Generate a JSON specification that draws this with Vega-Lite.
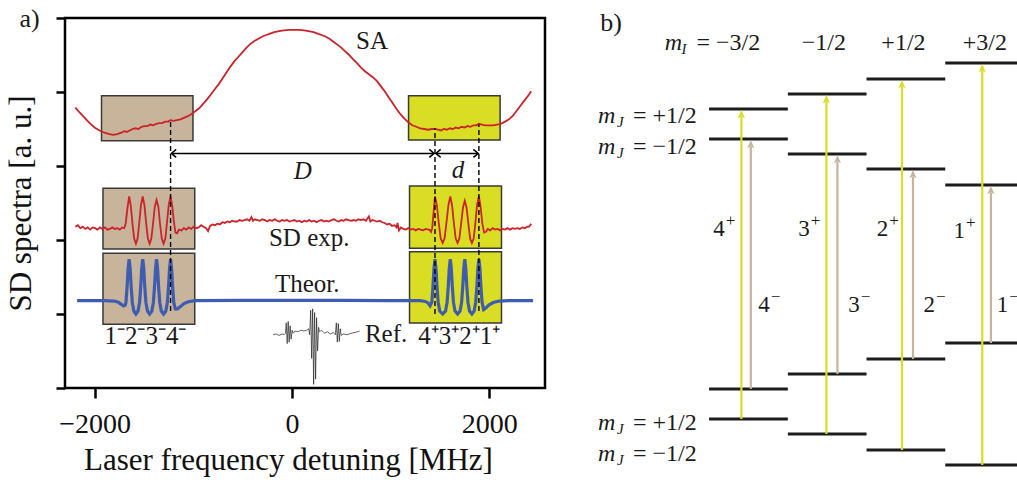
{
"$schema":"https://vega.github.io/schema/vega-lite/v6.json",
"background":"white",
"padding":{"left":4,"top":4,"right":0,"bottom":0},
"bounds":"flush",
"spacing":46,
"config":{"font":"Liberation Serif","view":{"stroke":null},"axis":{"grid":false,"domain":false},"text":{"font":"Liberation Serif","color":"#1a1a1a"}},
"datasets":{
"sa":[{"x":-2195,"y":3.79},{"x":-2150,"y":3.72},{"x":-2100,"y":3.65},{"x":-2050,"y":3.58},{"x":-2000,"y":3.52},{"x":-1950,"y":3.48},{"x":-1900,"y":3.45},{"x":-1850,"y":3.43},{"x":-1810,"y":3.42},{"x":-1770,"y":3.43},{"x":-1730,"y":3.45},{"x":-1700,"y":3.47},{"x":-1675,"y":3.46},{"x":-1645,"y":3.48},{"x":-1615,"y":3.5},{"x":-1585,"y":3.51},{"x":-1555,"y":3.5},{"x":-1525,"y":3.53},{"x":-1495,"y":3.54},{"x":-1465,"y":3.54},{"x":-1435,"y":3.56},{"x":-1405,"y":3.55},{"x":-1375,"y":3.57},{"x":-1345,"y":3.58},{"x":-1315,"y":3.58},{"x":-1285,"y":3.6},{"x":-1255,"y":3.6},{"x":-1230,"y":3.62},{"x":-1200,"y":3.61},{"x":-1165,"y":3.62},{"x":-1130,"y":3.63},{"x":-1095,"y":3.65},{"x":-1060,"y":3.67},{"x":-1020,"y":3.7},{"x":-980,"y":3.74},{"x":-940,"y":3.78},{"x":-900,"y":3.84},{"x":-860,"y":3.9},{"x":-820,"y":3.97},{"x":-780,"y":4.04},{"x":-740,"y":4.11},{"x":-700,"y":4.19},{"x":-660,"y":4.27},{"x":-620,"y":4.35},{"x":-580,"y":4.42},{"x":-540,"y":4.48},{"x":-500,"y":4.54},{"x":-460,"y":4.6},{"x":-420,"y":4.65},{"x":-380,"y":4.69},{"x":-340,"y":4.72},{"x":-300,"y":4.75},{"x":-260,"y":4.77},{"x":-220,"y":4.79},{"x":-180,"y":4.81},{"x":-140,"y":4.82},{"x":-100,"y":4.83},{"x":-60,"y":4.835},{"x":-20,"y":4.84},{"x":20,"y":4.84},{"x":60,"y":4.84},{"x":100,"y":4.835},{"x":140,"y":4.83},{"x":180,"y":4.82},{"x":220,"y":4.81},{"x":260,"y":4.79},{"x":300,"y":4.77},{"x":340,"y":4.75},{"x":380,"y":4.72},{"x":420,"y":4.68},{"x":460,"y":4.64},{"x":500,"y":4.6},{"x":540,"y":4.55},{"x":580,"y":4.5},{"x":620,"y":4.44},{"x":660,"y":4.39},{"x":700,"y":4.33},{"x":740,"y":4.28},{"x":780,"y":4.24},{"x":820,"y":4.2},{"x":860,"y":4.15},{"x":900,"y":4.08},{"x":940,"y":4.01},{"x":980,"y":3.93},{"x":1020,"y":3.85},{"x":1060,"y":3.77},{"x":1100,"y":3.7},{"x":1140,"y":3.64},{"x":1180,"y":3.59},{"x":1220,"y":3.55},{"x":1260,"y":3.53},{"x":1300,"y":3.51},{"x":1340,"y":3.5},{"x":1380,"y":3.49},{"x":1420,"y":3.5},{"x":1450,"y":3.5},{"x":1480,"y":3.49},{"x":1510,"y":3.48},{"x":1540,"y":3.5},{"x":1570,"y":3.49},{"x":1600,"y":3.51},{"x":1630,"y":3.5},{"x":1660,"y":3.52},{"x":1690,"y":3.51},{"x":1720,"y":3.53},{"x":1750,"y":3.52},{"x":1780,"y":3.54},{"x":1810,"y":3.53},{"x":1840,"y":3.55},{"x":1870,"y":3.55},{"x":1895,"y":3.57},{"x":1925,"y":3.56},{"x":1960,"y":3.55},{"x":2000,"y":3.55},{"x":2040,"y":3.55},{"x":2080,"y":3.56},{"x":2120,"y":3.57},{"x":2160,"y":3.6},{"x":2200,"y":3.63},{"x":2240,"y":3.68},{"x":2280,"y":3.75},{"x":2320,"y":3.82},{"x":2360,"y":3.89},{"x":2400,"y":3.96},{"x":2425,"y":4.01}],
"sd":[{"x":-2195,"y":2.18},{"x":-2170,"y":2.2},{"x":-2145,"y":2.16},{"x":-2120,"y":2.18},{"x":-2095,"y":2.15},{"x":-2070,"y":2.17},{"x":-2045,"y":2.14},{"x":-2020,"y":2.17},{"x":-1995,"y":2.16},{"x":-1970,"y":2.14},{"x":-1945,"y":2.17},{"x":-1920,"y":2.15},{"x":-1895,"y":2.17},{"x":-1870,"y":2.14},{"x":-1845,"y":2.15},{"x":-1820,"y":2.17},{"x":-1795,"y":2.15},{"x":-1770,"y":2.16},{"x":-1745,"y":2.14},{"x":-1720,"y":2.17},{"x":-1700,"y":2.16},{"x":-1685,"y":2.22},{"x":-1668,"y":2.42},{"x":-1650,"y":2.59},{"x":-1633,"y":2.46},{"x":-1616,"y":2.22},{"x":-1599,"y":2.02},{"x":-1581,"y":1.95},{"x":-1564,"y":2.02},{"x":-1547,"y":2.24},{"x":-1529,"y":2.48},{"x":-1512,"y":2.59},{"x":-1495,"y":2.47},{"x":-1477,"y":2.22},{"x":-1460,"y":2.02},{"x":-1442,"y":1.95},{"x":-1425,"y":2.02},{"x":-1407,"y":2.23},{"x":-1390,"y":2.45},{"x":-1372,"y":2.54},{"x":-1354,"y":2.45},{"x":-1337,"y":2.22},{"x":-1319,"y":2.02},{"x":-1301,"y":1.95},{"x":-1283,"y":2.02},{"x":-1266,"y":2.24},{"x":-1248,"y":2.48},{"x":-1230,"y":2.59},{"x":-1213,"y":2.46},{"x":-1196,"y":2.24},{"x":-1180,"y":2.1},{"x":-1163,"y":2.09},{"x":-1145,"y":2.14},{"x":-1120,"y":2.13},{"x":-1095,"y":2.16},{"x":-1070,"y":2.14},{"x":-1045,"y":2.17},{"x":-1020,"y":2.15},{"x":-995,"y":2.18},{"x":-970,"y":2.16},{"x":-945,"y":2.17},{"x":-920,"y":2.2},{"x":-895,"y":2.18},{"x":-870,"y":2.16},{"x":-850,"y":2.12},{"x":-830,"y":2.19},{"x":-805,"y":2.21},{"x":-780,"y":2.2},{"x":-755,"y":2.22},{"x":-730,"y":2.21},{"x":-705,"y":2.24},{"x":-680,"y":2.23},{"x":-655,"y":2.25},{"x":-630,"y":2.24},{"x":-605,"y":2.26},{"x":-580,"y":2.25},{"x":-555,"y":2.25},{"x":-530,"y":2.27},{"x":-505,"y":2.26},{"x":-480,"y":2.27},{"x":-455,"y":2.28},{"x":-430,"y":2.26},{"x":-410,"y":2.31},{"x":-395,"y":2.26},{"x":-375,"y":2.28},{"x":-350,"y":2.27},{"x":-325,"y":2.26},{"x":-300,"y":2.28},{"x":-275,"y":2.27},{"x":-250,"y":2.25},{"x":-225,"y":2.27},{"x":-200,"y":2.26},{"x":-175,"y":2.28},{"x":-150,"y":2.26},{"x":-125,"y":2.25},{"x":-100,"y":2.27},{"x":-75,"y":2.26},{"x":-50,"y":2.27},{"x":-25,"y":2.25},{"x":0,"y":2.26},{"x":25,"y":2.27},{"x":50,"y":2.25},{"x":75,"y":2.26},{"x":100,"y":2.24},{"x":125,"y":2.26},{"x":150,"y":2.25},{"x":175,"y":2.27},{"x":200,"y":2.25},{"x":225,"y":2.26},{"x":250,"y":2.24},{"x":275,"y":2.26},{"x":300,"y":2.27},{"x":325,"y":2.25},{"x":350,"y":2.26},{"x":375,"y":2.25},{"x":400,"y":2.27},{"x":425,"y":2.28},{"x":450,"y":2.26},{"x":475,"y":2.25},{"x":500,"y":2.27},{"x":525,"y":2.26},{"x":550,"y":2.28},{"x":575,"y":2.27},{"x":600,"y":2.26},{"x":625,"y":2.27},{"x":650,"y":2.26},{"x":675,"y":2.28},{"x":700,"y":2.27},{"x":725,"y":2.28},{"x":750,"y":2.26},{"x":780,"y":2.32},{"x":795,"y":2.25},{"x":815,"y":2.27},{"x":840,"y":2.26},{"x":865,"y":2.25},{"x":890,"y":2.26},{"x":915,"y":2.24},{"x":940,"y":2.23},{"x":965,"y":2.21},{"x":990,"y":2.22},{"x":1015,"y":2.19},{"x":1040,"y":2.2},{"x":1060,"y":2.17},{"x":1070,"y":2.23},{"x":1085,"y":2.13},{"x":1105,"y":2.17},{"x":1130,"y":2.15},{"x":1155,"y":2.14},{"x":1180,"y":2.16},{"x":1205,"y":2.14},{"x":1230,"y":2.15},{"x":1255,"y":2.13},{"x":1280,"y":2.15},{"x":1305,"y":2.14},{"x":1330,"y":2.13},{"x":1355,"y":2.15},{"x":1380,"y":2.14},{"x":1395,"y":2.14},{"x":1410,"y":2.11},{"x":1422,"y":2.16},{"x":1436,"y":2.38},{"x":1450,"y":2.59},{"x":1469,"y":2.47},{"x":1488,"y":2.23},{"x":1508,"y":2.02},{"x":1528,"y":1.96},{"x":1547,"y":2.02},{"x":1566,"y":2.23},{"x":1586,"y":2.47},{"x":1605,"y":2.59},{"x":1623,"y":2.47},{"x":1642,"y":2.22},{"x":1660,"y":2.02},{"x":1679,"y":1.96},{"x":1697,"y":2.02},{"x":1715,"y":2.22},{"x":1734,"y":2.44},{"x":1752,"y":2.53},{"x":1770,"y":2.44},{"x":1788,"y":2.22},{"x":1806,"y":2.02},{"x":1824,"y":1.96},{"x":1842,"y":2.02},{"x":1860,"y":2.24},{"x":1877,"y":2.48},{"x":1895,"y":2.59},{"x":1912,"y":2.45},{"x":1930,"y":2.22},{"x":1948,"y":2.1},{"x":1966,"y":2.11},{"x":1985,"y":2.15},{"x":2010,"y":2.13},{"x":2035,"y":2.16},{"x":2060,"y":2.14},{"x":2085,"y":2.15},{"x":2110,"y":2.13},{"x":2135,"y":2.15},{"x":2160,"y":2.14},{"x":2185,"y":2.16},{"x":2210,"y":2.14},{"x":2235,"y":2.16},{"x":2260,"y":2.15},{"x":2285,"y":2.16},{"x":2310,"y":2.15},{"x":2335,"y":2.17},{"x":2360,"y":2.16},{"x":2385,"y":2.18},{"x":2405,"y":2.18},{"x":2425,"y":2.22}],
"th":[{"x":-2177,"y":1.18},{"x":-1900,"y":1.18},{"x":-1800,"y":1.175},{"x":-1760,"y":1.16},{"x":-1730,"y":1.13},{"x":-1705,"y":1.11},{"x":-1690,"y":1.12},{"x":-1682,"y":1.16},{"x":-1670,"y":1.38},{"x":-1660,"y":1.62},{"x":-1650,"y":1.74},{"x":-1640,"y":1.62},{"x":-1630,"y":1.38},{"x":-1618,"y":1.16},{"x":-1602,"y":1.04},{"x":-1581,"y":1.0},{"x":-1560,"y":1.04},{"x":-1544,"y":1.16},{"x":-1532,"y":1.38},{"x":-1522,"y":1.62},{"x":-1512,"y":1.74},{"x":-1502,"y":1.62},{"x":-1492,"y":1.38},{"x":-1480,"y":1.16},{"x":-1464,"y":1.04},{"x":-1442,"y":1.0},{"x":-1420,"y":1.04},{"x":-1404,"y":1.16},{"x":-1392,"y":1.38},{"x":-1382,"y":1.62},{"x":-1372,"y":1.74},{"x":-1362,"y":1.62},{"x":-1352,"y":1.38},{"x":-1340,"y":1.16},{"x":-1324,"y":1.04},{"x":-1301,"y":1.0},{"x":-1278,"y":1.04},{"x":-1262,"y":1.16},{"x":-1250,"y":1.38},{"x":-1240,"y":1.62},{"x":-1230,"y":1.74},{"x":-1220,"y":1.62},{"x":-1210,"y":1.38},{"x":-1198,"y":1.16},{"x":-1182,"y":1.07},{"x":-1160,"y":1.07},{"x":-1130,"y":1.1},{"x":-1095,"y":1.14},{"x":-1050,"y":1.165},{"x":-980,"y":1.18},{"x":-500,"y":1.185},{"x":0,"y":1.185},{"x":500,"y":1.185},{"x":1000,"y":1.18},{"x":1300,"y":1.18},{"x":1350,"y":1.17},{"x":1380,"y":1.15},{"x":1400,"y":1.11},{"x":1418,"y":1.16},{"x":1430,"y":1.38},{"x":1440,"y":1.62},{"x":1450,"y":1.74},{"x":1460,"y":1.62},{"x":1470,"y":1.38},{"x":1482,"y":1.16},{"x":1498,"y":1.04},{"x":1528,"y":1.0},{"x":1557,"y":1.04},{"x":1573,"y":1.16},{"x":1585,"y":1.38},{"x":1595,"y":1.62},{"x":1605,"y":1.74},{"x":1615,"y":1.62},{"x":1625,"y":1.38},{"x":1637,"y":1.16},{"x":1653,"y":1.04},{"x":1679,"y":1.0},{"x":1704,"y":1.04},{"x":1720,"y":1.16},{"x":1732,"y":1.38},{"x":1742,"y":1.62},{"x":1752,"y":1.74},{"x":1762,"y":1.62},{"x":1772,"y":1.38},{"x":1784,"y":1.16},{"x":1800,"y":1.04},{"x":1824,"y":1.0},{"x":1847,"y":1.04},{"x":1863,"y":1.16},{"x":1875,"y":1.38},{"x":1885,"y":1.62},{"x":1895,"y":1.74},{"x":1905,"y":1.62},{"x":1915,"y":1.38},{"x":1927,"y":1.16},{"x":1943,"y":1.06},{"x":1965,"y":1.08},{"x":1995,"y":1.12},{"x":2040,"y":1.155},{"x":2100,"y":1.175},{"x":2200,"y":1.18},{"x":2444,"y":1.18}],
"ref":[{"x":-192,"y":0.72},{"x":-160,"y":0.73},{"x":-130,"y":0.71},{"x":-100,"y":0.73},{"x":-80,"y":0.72},{"x":-66,"y":0.74},{"x":-58,"y":0.88},{"x":-48,"y":0.6},{"x":-38,"y":0.9},{"x":-28,"y":0.62},{"x":-18,"y":0.84},{"x":-8,"y":0.66},{"x":2,"y":0.78},{"x":12,"y":0.74},{"x":30,"y":0.77},{"x":60,"y":0.76},{"x":90,"y":0.78},{"x":120,"y":0.77},{"x":150,"y":0.78},{"x":170,"y":0.8},{"x":180,"y":0.72},{"x":190,"y":1.05},{"x":200,"y":0.4},{"x":210,"y":1.07},{"x":220,"y":0.05},{"x":230,"y":1.02},{"x":240,"y":0.12},{"x":250,"y":0.95},{"x":260,"y":0.5},{"x":270,"y":0.82},{"x":280,"y":0.76},{"x":300,"y":0.78},{"x":330,"y":0.74},{"x":360,"y":0.76},{"x":390,"y":0.73},{"x":420,"y":0.75},{"x":440,"y":0.72},{"x":450,"y":0.88},{"x":460,"y":0.62},{"x":470,"y":0.87},{"x":480,"y":0.63},{"x":490,"y":0.8},{"x":500,"y":0.71},{"x":520,"y":0.73},{"x":560,"y":0.72},{"x":600,"y":0.74},{"x":640,"y":0.75},{"x":686,"y":0.77}],
"boxes":[{"x":-1930,"x2":-1003,"y":3.34,"y2":3.95,"side":"minus"},{"x":-1915,"x2":-985,"y":1.88,"y2":2.7,"side":"minus"},{"x":-1915,"x2":-985,"y":0.86,"y2":1.82,"side":"minus"},{"x":1182,"x2":2110,"y":3.35,"y2":3.95,"side":"plus"},{"x":1192,"x2":2124,"y":1.89,"y2":2.73,"side":"plus"},{"x":1192,"x2":2124,"y":0.88,"y2":1.84,"side":"plus"}],
"dash":[{"x":-1230,"y":1.04,"y2":3.62},{"x":1450,"y":1.0,"y2":3.51},{"x":1895,"y":1.04,"y2":3.56}],
"harrow":[{"x":-1222,"x2":1441,"y":3.17},{"x":1459,"x2":1888,"y":3.17}],
"heads":[{"x":-1222,"y":3.17,"dir":"left"},{"x":1441,"y":3.17,"dir":"right"},{"x":1459,"y":3.17,"dir":"left"},{"x":1888,"y":3.17,"dir":"right"}],
"labA":[{"x":650,"y":4.69,"t":"SA"},{"x":-233,"y":2.03,"t":"SD exp."},{"x":-172,"y":1.4,"t":"Theor."},{"x":740,"y":0.73,"t":"Ref."},{"x":-1900,"y":0.7,"t":"1⁻2⁻3⁻4⁻"},{"x":1280,"y":0.7,"t":"4⁺3⁺2⁺1⁺"}],
"itA":[{"x":111,"y":2.93,"t":"D"},{"x":1682,"y":2.95,"t":"d"}],
"tagA":[{"x":-2660,"y":4.99,"t":"a)"}],
"levels":[{"x":0,"x2":1,"y":37.4},{"x":0,"x2":1,"y":34.4},{"x":0,"x2":1,"y":9.4},{"x":0,"x2":1,"y":6.4},{"x":1,"x2":2,"y":38.9},{"x":1,"x2":2,"y":32.9},{"x":1,"x2":2,"y":10.9},{"x":1,"x2":2,"y":4.9},{"x":2,"x2":3,"y":40.4},{"x":2,"x2":3,"y":31.4},{"x":2,"x2":3,"y":12.4},{"x":2,"x2":3,"y":3.3},{"x":3,"x2":4,"y":42.0},{"x":3,"x2":4,"y":29.8},{"x":3,"x2":4,"y":14.0},{"x":3,"x2":4,"y":1.8}],
"arrows":[{"x":0.41,"y":6.4,"y2":36.6,"kind":"plus"},{"x":1.49,"y":4.9,"y2":38.1,"kind":"plus"},{"x":2.45,"y":3.3,"y2":39.6,"kind":"plus"},{"x":3.47,"y":1.8,"y2":41.2,"kind":"plus"},{"x":0.53,"y":9.4,"y2":33.6,"kind":"minus"},{"x":1.63,"y":10.9,"y2":32.1,"kind":"minus"},{"x":2.59,"y":12.4,"y2":30.6,"kind":"minus"},{"x":3.58,"y":14.0,"y2":29.0,"kind":"minus"}],
"tips":[{"x":0.41,"y":37.3,"kind":"plus"},{"x":1.49,"y":38.8,"kind":"plus"},{"x":2.45,"y":40.3,"kind":"plus"},{"x":3.47,"y":41.9,"kind":"plus"},{"x":0.53,"y":34.3,"kind":"minus"},{"x":1.63,"y":32.8,"kind":"minus"},{"x":2.59,"y":31.3,"kind":"minus"},{"x":3.58,"y":29.7,"kind":"minus"}],
"digB":[{"x":0.199,"y":25.4,"t":"4"},{"x":1.279,"y":25.4,"t":"3"},{"x":2.275,"y":25.4,"t":"2"},{"x":3.249,"y":25.2,"t":"1"},{"x":0.771,"y":17.8,"t":"4"},{"x":1.915,"y":17.8,"t":"3"},{"x":2.868,"y":17.8,"t":"2"},{"x":3.8,"y":17.8,"t":"1"}],
"supB":[{"x":0.199,"y":25.4,"t":"+"},{"x":1.279,"y":25.4,"t":"+"},{"x":2.275,"y":25.4,"t":"+"},{"x":3.249,"y":25.2,"t":"+"},{"x":0.771,"y":17.8,"t":"−"},{"x":1.915,"y":17.8,"t":"−"},{"x":2.868,"y":17.8,"t":"−"},{"x":3.8,"y":17.8,"t":"−"}],
"topB":[{"x":1.457,"y":43.97,"t":"−1/2"},{"x":2.469,"y":43.97,"t":"+1/2"},{"x":3.503,"y":43.97,"t":"+3/2"}],
"mB":[{"x":-0.563,"y":43.97,"t":"m"},{"x":-1.41,"y":36.7,"t":"m"},{"x":-1.41,"y":33.63,"t":"m"},{"x":-1.41,"y":6.03,"t":"m"},{"x":-1.41,"y":2.87,"t":"m"}],
"subB":[{"x":-0.352,"y":43.97,"t":"I"},{"x":-1.17,"y":36.7,"t":"J"},{"x":-1.17,"y":33.63,"t":"J"},{"x":-1.17,"y":6.03,"t":"J"},{"x":-1.17,"y":2.87,"t":"J"}],
"eqB":[{"x":-0.161,"y":43.97,"t":"= −3/2"},{"x":-0.966,"y":36.7,"t":"= +1/2"},{"x":-0.966,"y":33.63,"t":"= −1/2"},{"x":-0.966,"y":6.03,"t":"= +1/2"},{"x":-0.966,"y":2.87,"t":"= −1/2"}],
"tagB":[{"x":-1.245,"y":46.0,"t":"b)"}]
},
"hconcat":[
{
"width":480,"height":370,
"view":{"stroke":"black","strokeWidth":2.5},
"encoding":{
"x":{"field":"x","type":"quantitative","scale":{"domain":[-2300,2565],"nice":false,"zero":false},
"axis":{"values":[-2000,0,2000],"format":"d","title":"Laser frequency detuning [MHz]","titleFontSize":31,"titleFontWeight":"normal","titleColor":"#111","titleFont":"Liberation Serif","titleX":223,"titlePadding":7,"labelFontSize":28,"labelFont":"Liberation Serif","labelColor":"#111","labelPadding":12,"labelFlush":false,"tickSize":10,"tickWidth":2.5,"tickColor":"black"}},
"y":{"field":"y","type":"quantitative","scale":{"domain":[0,5],"nice":false,"zero":false},
"axis":{"values":[0,1,2,3,4,5],"labels":false,"title":"SD spectra [a. u.]","titleFontSize":31,"titleFontWeight":"normal","titleColor":"#111","titleFont":"Liberation Serif","titlePadding":17,"tickSize":9,"tickWidth":2.5,"tickColor":"black"}}
},
"layer":[
{"data":{"name":"boxes"},"mark":{"type":"rect","stroke":"#3a3a3a","strokeWidth":1.5,"opacity":1},
"encoding":{"x2":{"field":"x2"},"y2":{"field":"y2"},"color":{"field":"side","type":"nominal","scale":{"domain":["minus","plus"],"range":["#c8b39b","#d9dd24"]},"legend":null}}},
{"data":{"name":"sa"},"mark":{"type":"line","color":"#cc2229","strokeWidth":1.8},"encoding":{}},
{"data":{"name":"sd"},"mark":{"type":"line","color":"#cc2229","strokeWidth":1.8},"encoding":{}},
{"data":{"name":"th"},"mark":{"type":"line","color":"#3f5db0","strokeWidth":3.2},"encoding":{}},
{"data":{"name":"ref"},"mark":{"type":"line","color":"#222222","strokeWidth":0.7},"encoding":{}},
{"data":{"name":"dash"},"mark":{"type":"rule","color":"black","strokeWidth":1.4,"strokeDash":[5,3]},"encoding":{"y2":{"field":"y2"}}},
{"data":{"name":"harrow"},"mark":{"type":"rule","color":"black","strokeWidth":1.5},"encoding":{"x2":{"field":"x2"}}},
{"data":{"name":"heads"},"mark":{"type":"point","filled":false,"color":"black","strokeWidth":1.5,"size":64,"opacity":1},
"encoding":{"shape":{"field":"dir","type":"nominal","scale":{"domain":["left","right"],"range":["M1.2,-1L0,0L1.2,1","M-1.2,-1L0,0L-1.2,1"]},"legend":null}}},
{"data":{"name":"labA"},"mark":{"type":"text","align":"left","baseline":"middle","fontSize":25},"encoding":{"text":{"field":"t"}}},
{"data":{"name":"itA"},"mark":{"type":"text","align":"center","baseline":"middle","fontSize":25,"fontStyle":"italic"},"encoding":{"text":{"field":"t"}}},
{"data":{"name":"tagA"},"mark":{"type":"text","align":"center","baseline":"middle","fontSize":26},"encoding":{"text":{"field":"t"}}}
]
},
{
"width":433,"height":465,
"encoding":{
"x":{"field":"x","type":"quantitative","scale":{"domain":[-1.5,4],"nice":false,"zero":false},"axis":null},
"y":{"field":"y","type":"quantitative","scale":{"domain":[0,46.5],"nice":false,"zero":false},"axis":null}
},
"layer":[
{"data":{"name":"levels"},"mark":{"type":"rule","color":"#1c1c1c","strokeWidth":3},"encoding":{"x2":{"field":"x2"}}},
{"data":{"name":"arrows"},"mark":{"type":"rule","strokeWidth":2.2},"encoding":{"y2":{"field":"y2"},"color":{"field":"kind","type":"nominal","scale":{"domain":["plus","minus"],"range":["#dde31c","#c8b39b"]},"legend":null}}},
{"data":{"name":"tips"},"mark":{"type":"point","filled":true,"opacity":1,"size":77,"shape":"M0,0L-0.8,1.9L0,1.5L0.8,1.9Z"},"encoding":{"color":{"field":"kind","type":"nominal","scale":{"domain":["plus","minus"],"range":["#dde31c","#c8b39b"]},"legend":null}}},
{"data":{"name":"digB"},"mark":{"type":"text","align":"right","baseline":"middle","fontSize":23},"encoding":{"text":{"field":"t"}}},
{"data":{"name":"supB"},"mark":{"type":"text","align":"left","baseline":"middle","fontSize":17,"dx":1,"dy":-8},"encoding":{"text":{"field":"t"}}},
{"data":{"name":"topB"},"mark":{"type":"text","align":"center","baseline":"middle","fontSize":24},"encoding":{"text":{"field":"t"}}},
{"data":{"name":"mB"},"mark":{"type":"text","align":"left","baseline":"middle","fontSize":24,"fontStyle":"italic"},"encoding":{"text":{"field":"t"}}},
{"data":{"name":"subB"},"mark":{"type":"text","align":"left","baseline":"middle","fontSize":15,"fontStyle":"italic","dy":6},"encoding":{"text":{"field":"t"}}},
{"data":{"name":"eqB"},"mark":{"type":"text","align":"left","baseline":"middle","fontSize":24},"encoding":{"text":{"field":"t"}}},
{"data":{"name":"tagB"},"mark":{"type":"text","align":"center","baseline":"middle","fontSize":26},"encoding":{"text":{"field":"t"}}}
]
}
]
}
